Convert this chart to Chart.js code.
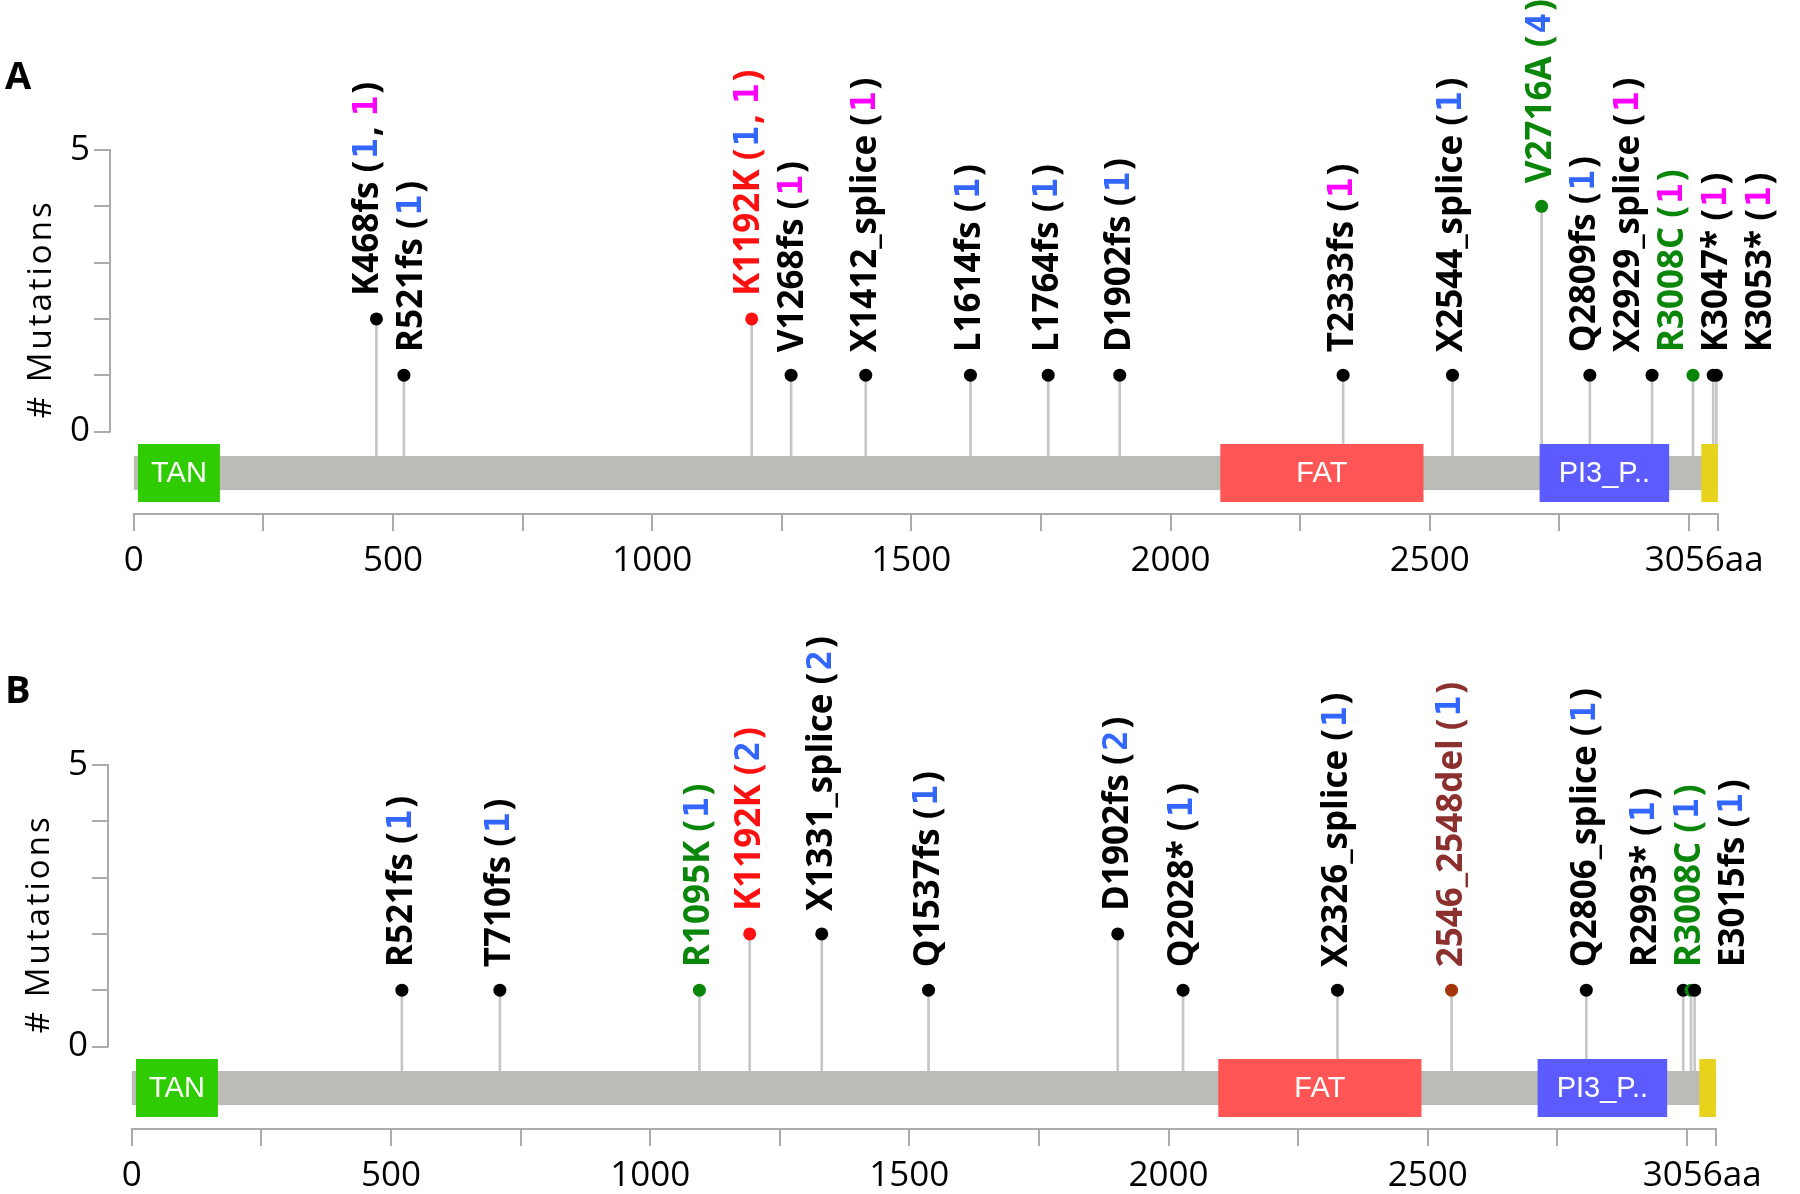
<!DOCTYPE html>
<html><head><meta charset="utf-8">
<script src="https://cdn.jsdelivr.net/npm/chart.js@4.4.1/dist/chart.umd.min.js"></script>
<style>
html,body{margin:0;padding:0;background:#fff;overflow:hidden;width:1800px;height:1194px;}
.panel{position:absolute;width:1800px;height:600px;}
#pa{top:0;left:0;} #pb{top:615px;left:-2px;}
.tag{position:absolute;left:5px;font:bold 38px "Open Sans";color:#000;line-height:normal;}
</style></head><body>
<div class="panel" id="pa"><canvas id="ca" width="1800" height="600"></canvas></div>
<div class="panel" id="pb"><canvas id="cb" width="1800" height="600"></canvas></div>
<div class="tag" style="top:48px">A</div>
<div class="tag" style="top:662px">B</div>
<script>
// ---------- data ----------
const PROTEIN_LENGTH = 3056;
const X_TICKS = [0,250,500,750,1000,1250,1500,1750,2000,2250,2500,2750,3000,3056];
const X_LABELED = [0,500,1000,1500,2000,2500];
const Y_TICKS = [0,1,2,3,4,5];
const Y_LABELED = [0,5];

const DOMAIN_NAMES = ['TAN','FAT','PI3_P..',''];
const DOMAIN_START = [8,2096,2712,3024];
const DOMAIN_END = [166,2488,2962,3056];

// Panel A
const A_names = ['K468fs','R521fs','K1192K','V1268fs','X1412_splice','L1614fs','L1764fs','D1902fs','T2333fs','X2544_splice','V2716A','Q2809fs','X2929_splice','R3008C','K3047*','K3053*'];
const A_pos = [468,521,1192,1268,1412,1614,1764,1902,2333,2544,2716,2809,2929,3008,3047,3053];
const A_counts = [2,1,2,1,1,1,1,1,1,1,4,1,1,1,1,1];
const A_blue = [1,1,1,0,0,1,1,1,0,1,4,1,0,0,0,0];
const A_magenta = [1,0,1,1,1,0,0,0,1,0,0,0,1,1,1,1];
const A_kind = ['k','k','r','k','k','k','k','k','k','k','g','k','k','g','k','k'];

// Panel B
const B_names = ['R521fs','T710fs','R1095K','K1192K','X1331_splice','Q1537fs','D1902fs','Q2028*','X2326_splice','2546_2548del','Q2806_splice','R2993*','R3008C','E3015fs'];
const B_pos = [521,710,1095,1192,1331,1537,1902,2028,2326,2546,2806,2993,3008,3015];
const B_counts = [1,1,1,2,2,1,2,1,1,1,1,1,1,1];
const B_blue = [1,1,1,2,2,1,2,1,1,1,1,1,1,1];
const B_magenta = [0,0,0,0,0,0,0,0,0,0,0,0,0,0];
const B_kind = ['k','k','g','r','k','k','k','k','k','d','k','k','g','k'];

// ---------- styles ----------
const DOMAIN_COLORS = ['#2ecc00','#ff5555','#5b5bff','#e8d31c'];
const LABEL_COLORS = {k:'#000000', r:'#ff1010', g:'#0a870a', d:'#8b2f2f'};
const POINT_COLORS = {k:'#000000', r:'#ff1010', g:'#0a870a', d:'#a33508'};
const BLUE = '#3366ff', MAGENTA = '#ff00ff';
const AXIS_COLOR = '#ababab';
const LAYOUT = {barTop:-0.435, barBot:-1.04, domTop:-0.222, domBot:-1.252, labelGap:44, labelLift:23};
const NAME_FONT = 'bold 35px "Open Sans"';
const MONO_FONT = 'bold 34px "DejaVu Sans Mono"';

function spreadLabels(px, gap){
  const q = px.map((p,i)=>p - i*gap);
  const blocks = [];
  for (let i=0;i<q.length;i++){
    blocks.push({sum:q[i], cnt:1});
    while (blocks.length>1){
      const b = blocks[blocks.length-1], a = blocks[blocks.length-2];
      if (a.sum/a.cnt > b.sum/b.cnt){ a.sum+=b.sum; a.cnt+=b.cnt; blocks.pop(); } else break;
    }
  }
  const out=[]; let i=0;
  for (const b of blocks){ const v=b.sum/b.cnt; for(let k=0;k<b.cnt;k++){ out.push(v+i*gap); i++; } }
  return out;
}

function makePlugin(names,pos,counts,blue,magenta,kind){
  return {
    id:'lollipop',
    afterDatasetDraw(chart,args){
      if (args.index!==0) return;
      const xs=chart.scales.x, ys=chart.scales.y, ctx=chart.ctx;
      const x0=xs.getPixelForValue(0), x1=xs.getPixelForValue(PROTEIN_LENGTH);
      const bt=ys.getPixelForValue(LAYOUT.barTop), bb=ys.getPixelForValue(LAYOUT.barBot);
      ctx.save();
      ctx.fillStyle='#babcb5';
      ctx.fillRect(x0,bt,x1-x0,bb-bt);
      const dt=ys.getPixelForValue(LAYOUT.domTop), db=ys.getPixelForValue(LAYOUT.domBot);
      for (let i=0;i<DOMAIN_NAMES.length;i++){
        const a=xs.getPixelForValue(DOMAIN_START[i]), b=xs.getPixelForValue(DOMAIN_END[i]);
        ctx.fillStyle=DOMAIN_COLORS[i];
        ctx.fillRect(a,dt,b-a,db-dt);
        if (DOMAIN_NAMES[i]){
          ctx.fillStyle='#ffffff';
          ctx.font='29px "Liberation Sans"';
          ctx.textAlign='center'; ctx.textBaseline='middle';
          ctx.fillText(DOMAIN_NAMES[i],(a+b)/2,(dt+db)/2+1);
        }
      }
      ctx.restore();
    },
    afterDraw(chart){
      const xs=chart.scales.x, ys=chart.scales.y, ctx=chart.ctx, ca=chart.chartArea;
      ctx.save();
      ctx.strokeStyle=AXIS_COLOR; ctx.lineWidth=2;
      ctx.beginPath();
      ctx.moveTo(xs.getPixelForValue(0)-1, ca.bottom); ctx.lineTo(xs.getPixelForValue(PROTEIN_LENGTH)+1, ca.bottom);
      ctx.moveTo(ca.left, ys.getPixelForValue(0)+1); ctx.lineTo(ca.left, ys.getPixelForValue(5)-1);
      ctx.stroke();
      ctx.save();
      ctx.translate(42,(ys.getPixelForValue(0)+ys.getPixelForValue(5))/2+18);
      ctx.rotate(-Math.PI/2);
      ctx.font='33px "Open Sans"'; ctx.letterSpacing='3px';
      ctx.fillStyle='#000'; ctx.textAlign='center'; ctx.textBaseline='middle';
      ctx.fillText('# Mutations',0,0);
      ctx.restore();
      const pxs=pos.map(p=>xs.getPixelForValue(p));
      const lx=spreadLabels(pxs,LAYOUT.labelGap);
      for (let i=0;i<names.length;i++){
        const col=LABEL_COLORS[kind[i]];
        const py=ys.getPixelForValue(counts[i])-LAYOUT.labelLift;
        ctx.save();
        ctx.translate(lx[i],py); ctx.rotate(-Math.PI/2);
        ctx.textBaseline='middle'; ctx.textAlign='left';
        let cx=0;
        const seg=(t,font,color,extra)=>{ctx.font=font; ctx.fillStyle=color; ctx.fillText(t,cx,0); cx+=ctx.measureText(t).width+(extra||0);};
        seg(names[i]+' (',NAME_FONT,col,2);
        const parts=[];
        if (blue[i]) parts.push([blue[i],BLUE]);
        if (magenta[i]) parts.push([magenta[i],MAGENTA]);
        parts.forEach((p,j)=>{ if(j) seg(', ',NAME_FONT,col,1); seg(String(p[0]),MONO_FONT,p[1],2); });
        seg(')',NAME_FONT,col);
        ctx.restore();
      }
      ctx.restore();
    }
  };
}

function makePanel(id,names,pos,counts,blue,magenta,kind){
  const stems=pos.map((p,i)=>({x:p,y:[LAYOUT.barTop,counts[i]]}));
  const pts=pos.map((p,i)=>({x:p,y:counts[i]}));
  return new Chart(document.getElementById(id),{
    type:'bar',
    data:{datasets:[
      {type:'bar',data:stems,backgroundColor:'#c6c6c6',barThickness:2,grouped:false,order:2,clip:false},
      {type:'scatter',data:pts,pointRadius:6.5,pointHoverRadius:6.5,pointBorderWidth:0,
       pointBackgroundColor:kind.map(k=>POINT_COLORS[k]),order:1,clip:false}
    ]},
    options:{
      responsive:false, animation:false, events:[],
      layout:{padding:{top:150,right:80,left:0,bottom:0}},
      plugins:{legend:{display:false},tooltip:{enabled:false}},
      scales:{
        x:{type:'linear',min:-46,max:PROTEIN_LENGTH,offset:false,
           afterBuildTicks:s=>{s.ticks=X_TICKS.map(v=>({value:v}));},
           afterFit:s=>{s.height=86;},
           border:{display:false},
           grid:{offset:false,drawOnChartArea:false,drawTicks:true,tickLength:17,color:AXIS_COLOR,lineWidth:2},
           ticks:{autoSkip:false,maxRotation:0,minRotation:0,padding:9,color:'#000',
             font:{family:'Open Sans',size:35},
             callback:v=> v===PROTEIN_LENGTH ? PROTEIN_LENGTH+'aa   ' : (X_LABELED.includes(v)?String(v):'')}},
        y:{type:'linear',min:-1.465,max:5,offset:false,
           afterBuildTicks:s=>{s.ticks=Y_TICKS.map(v=>({value:v}));},
           afterFit:s=>{s.width=110;},
           border:{display:false},
           grid:{offset:false,drawOnChartArea:false,drawTicks:true,tickLength:16,color:AXIS_COLOR,lineWidth:2},
           ticks:{padding:4,color:'#000',font:{family:'Open Sans',size:35},
             callback:v=> Y_LABELED.includes(v)?String(v):''}}
      }
    },
    plugins:[makePlugin(names,pos,counts,blue,magenta,kind)]
  });
}

const fontsReady = Promise.all([
  document.fonts.load('bold 35px "Open Sans"'),
  document.fonts.load('35px "Open Sans"'),
  document.fonts.load('bold 34px "DejaVu Sans Mono"'),
  document.fonts.load('29px "Liberation Sans"')
]).catch(()=>{});
fontsReady.then(()=>{
  makePanel('ca',A_names,A_pos,A_counts,A_blue,A_magenta,A_kind);
  makePanel('cb',B_names,B_pos,B_counts,B_blue,B_magenta,B_kind);
});
</script>
</body></html>
